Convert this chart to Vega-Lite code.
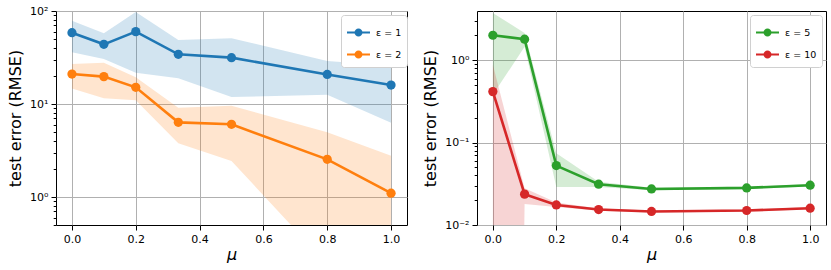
{
  "$schema": "https://vega.github.io/schema/vega-lite/v6.json",
  "padding": {"left": 7, "top": 4, "right": 0, "bottom": 0},
  "bounds": "flush",
  "spacing": 70,
  "datasets": {
    "left": [
      {"mu": 0.0, "series": "ε = 1", "err": 58.4, "lo": 36.0, "hi": 78.7},
      {"mu": 0.1, "series": "ε = 1", "err": 43.8, "lo": 30.5, "hi": 57.5},
      {"mu": 0.2, "series": "ε = 1", "err": 60.0, "lo": 21.7, "hi": 97.5},
      {"mu": 0.3333, "series": "ε = 1", "err": 34.2, "lo": 18.9, "hi": 48.8},
      {"mu": 0.5, "series": "ε = 1", "err": 31.5, "lo": 11.9, "hi": 50.9},
      {"mu": 0.8, "series": "ε = 1", "err": 20.8, "lo": 12.6, "hi": 29.0},
      {"mu": 1.0, "series": "ε = 1", "err": 16.0, "lo": 6.3, "hi": 25.8},
      {"mu": 0.0, "series": "ε = 2", "err": 21.0, "lo": 14.7, "hi": 26.9},
      {"mu": 0.1, "series": "ε = 2", "err": 19.7, "lo": 11.5, "hi": 27.8},
      {"mu": 0.2, "series": "ε = 2", "err": 15.1, "lo": 11.0, "hi": 19.4},
      {"mu": 0.3333, "series": "ε = 2", "err": 6.35, "lo": 3.78, "hi": 9.1},
      {"mu": 0.5, "series": "ε = 2", "err": 6.05, "lo": 2.44, "hi": 9.6},
      {"mu": 0.8, "series": "ε = 2", "err": 2.54, "lo": 0.19, "hi": 4.97},
      {"mu": 1.0, "series": "ε = 2", "err": 1.1, "lo": 0.05, "hi": 2.78}
    ],
    "right": [
      {"mu": 0.0, "series": "ε = 5", "err": 2.01, "lo": 0.38, "hi": 3.75},
      {"mu": 0.1, "series": "ε = 5", "err": 1.8, "lo": 1.46, "hi": 2.14},
      {"mu": 0.2, "series": "ε = 5", "err": 0.0526, "lo": 0.029, "hi": 0.0743},
      {"mu": 0.3333, "series": "ε = 5", "err": 0.0313, "lo": 0.029, "hi": 0.0336},
      {"mu": 0.5, "series": "ε = 5", "err": 0.0274, "lo": 0.0265, "hi": 0.0283},
      {"mu": 0.8, "series": "ε = 5", "err": 0.0282, "lo": 0.0273, "hi": 0.0291},
      {"mu": 1.0, "series": "ε = 5", "err": 0.0304, "lo": 0.0294, "hi": 0.0314},
      {"mu": 0.0, "series": "ε = 10", "err": 0.416, "lo": 1e-30, "hi": 0.88},
      {"mu": 0.1, "series": "ε = 10", "err": 0.0237, "lo": 0.018, "hi": 0.028},
      {"mu": 0.2, "series": "ε = 10", "err": 0.0175, "lo": 0.0165, "hi": 0.0188},
      {"mu": 0.3333, "series": "ε = 10", "err": 0.0154, "lo": 0.0149, "hi": 0.0159},
      {"mu": 0.5, "series": "ε = 10", "err": 0.0146, "lo": 0.0142, "hi": 0.015},
      {"mu": 0.8, "series": "ε = 10", "err": 0.015, "lo": 0.0146, "hi": 0.0154},
      {"mu": 1.0, "series": "ε = 10", "err": 0.016, "lo": 0.0155, "hi": 0.0165}
    ]
  },
  "resolve": {"scale": {"color": "independent", "y": "independent"}, "legend": {"color": "independent"}},
  "hconcat": [
    {
      "data": {"name": "left"},
      "width": 351,
      "height": 214,
      "encoding": {
        "x": {"field": "mu", "type": "quantitative", "title": "μ",
              "scale": {"domain": [-0.05, 1.05], "nice": false, "zero": false},
              "axis": {"values": [0, 0.2, 0.4, 0.6, 0.8, 1.0], "format": ".1f"}},
        "color": {"field": "series", "type": "nominal",
                  "scale": {"domain": ["ε = 1", "ε = 2"], "range": ["#1f77b4", "#ff7f0e"]},
                  "legend": {"title": null, "orient": "none", "legendX": 285, "legendY": 4,
                             "encode": {"symbols": {"update": {
                               "fill": {"signal": "datum.value === 'ε = 1' ? '#1f77b4' : '#ff7f0e'"},
                               "stroke": {"signal": "datum.value === 'ε = 1' ? '#1f77b4' : '#ff7f0e'"},
                               "opacity": {"value": 1}}}}}}
      },
      "layer": [
        {"mark": {"type": "area", "opacity": 0.2, "clip": true},
         "encoding": {"y": {"field": "lo", "type": "quantitative"}, "y2": {"field": "hi"}}},
        {"mark": {"type": "line", "strokeWidth": 2.6, "clip": true},
         "encoding": {"y": {"field": "err", "type": "quantitative"}}},
        {"mark": {"type": "point", "filled": true, "size": 85, "opacity": 1, "clip": true},
         "encoding": {
           "y": {"field": "err", "type": "quantitative", "title": "test error (RMSE)",
                 "scale": {"type": "log", "domain": [0.5, 100], "nice": false},
                 "axis": {
                   "values": [0.5, 0.6, 0.7, 0.8, 0.9, 1, 2, 3, 4, 5, 6, 7, 8, 9, 10, 20, 30, 40, 50, 60, 70, 80, 90, 100],
                   "labelExpr": "datum.value == 1 ? '10⁰' : datum.value == 10 ? '10¹' : datum.value == 100 ? '10²' : ''",
                   "tickSize": {"condition": {"test": "datum.value == 1 || datum.value == 10 || datum.value == 100", "value": 5}, "value": 2.8},
                   "gridOpacity": {"condition": {"test": "datum.value == 1 || datum.value == 10 || datum.value == 100", "value": 1}, "value": 0}
                 }}
         }}
      ]
    },
    {
      "data": {"name": "right"},
      "width": 349,
      "height": 214,
      "encoding": {
        "x": {"field": "mu", "type": "quantitative", "title": "μ",
              "scale": {"domain": [-0.05, 1.05], "nice": false, "zero": false},
              "axis": {"values": [0, 0.2, 0.4, 0.6, 0.8, 1.0], "format": ".1f"}},
        "color": {"field": "series", "type": "nominal",
                  "scale": {"domain": ["ε = 5", "ε = 10"], "range": ["#2ca02c", "#d62728"]},
                  "legend": {"title": null, "orient": "none", "legendX": 273, "legendY": 4,
                             "encode": {"symbols": {"update": {
                               "fill": {"signal": "datum.value === 'ε = 5' ? '#2ca02c' : '#d62728'"},
                               "stroke": {"signal": "datum.value === 'ε = 5' ? '#2ca02c' : '#d62728'"},
                               "opacity": {"value": 1}}}}}}
      },
      "layer": [
        {"mark": {"type": "area", "opacity": 0.2, "clip": true},
         "encoding": {"y": {"field": "lo", "type": "quantitative"}, "y2": {"field": "hi"}}},
        {"mark": {"type": "line", "strokeWidth": 2.6, "clip": true},
         "encoding": {"y": {"field": "err", "type": "quantitative"}}},
        {"mark": {"type": "point", "filled": true, "size": 85, "opacity": 1, "clip": true},
         "encoding": {
           "y": {"field": "err", "type": "quantitative", "title": "test error (RMSE)",
                 "scale": {"type": "log", "domain": [0.01, 3.96], "nice": false},
                 "axis": {
                   "values": [0.01, 0.02, 0.03, 0.04, 0.05, 0.06, 0.07, 0.08, 0.09, 0.1, 0.2, 0.3, 0.4, 0.5, 0.6, 0.7, 0.8, 0.9, 1, 2, 3],
                   "labelExpr": "datum.value == 0.01 ? '10⁻²' : datum.value == 0.1 ? '10⁻¹' : datum.value == 1 ? '10⁰' : ''",
                   "tickSize": {"condition": {"test": "datum.value == 0.01 || datum.value == 0.1 || datum.value == 1", "value": 5}, "value": 2.8},
                   "gridOpacity": {"condition": {"test": "datum.value == 0.01 || datum.value == 0.1 || datum.value == 1", "value": 1}, "value": 0}
                 }}
         }}
      ]
    }
  ],
  "config": {
    "view": {"stroke": "black", "strokeWidth": 1},
    "font": "DejaVu Sans",
    "axis": {
      "labelFont": "DejaVu Sans", "labelFontSize": 11, "labelColor": "black",
      "titleFont": "DejaVu Sans", "titleFontSize": 16, "titleFontWeight": "normal", "titleColor": "black",
      "tickColor": "black", "tickWidth": 1, "tickSize": 5,
      "domain": false,
      "grid": true, "gridColor": "#b0b0b0", "gridWidth": 1,
      "labelOverlap": false, "labelFlush": false, "labelPadding": 3
    },
    "axisX": {"titleFontStyle": "italic", "titlePadding": 2},
    "axisY": {"titlePadding": 6},
    "legend": {
      "labelFont": "DejaVu Sans", "labelFontSize": 9.5, "labelColor": "black",
      "symbolType": "M-1,0L1,0M0.26,0A0.26,0.26,0,1,1,-0.26,0A0.26,0.26,0,1,1,0.26,0Z",
      "symbolSize": 529, "symbolStrokeWidth": 2, "symbolOpacity": 1,
      "padding": 5, "rowPadding": 2, "labelOffset": 5,
      "strokeColor": "#d0d0d0", "fillColor": "white", "cornerRadius": 3
    }
  }
}
